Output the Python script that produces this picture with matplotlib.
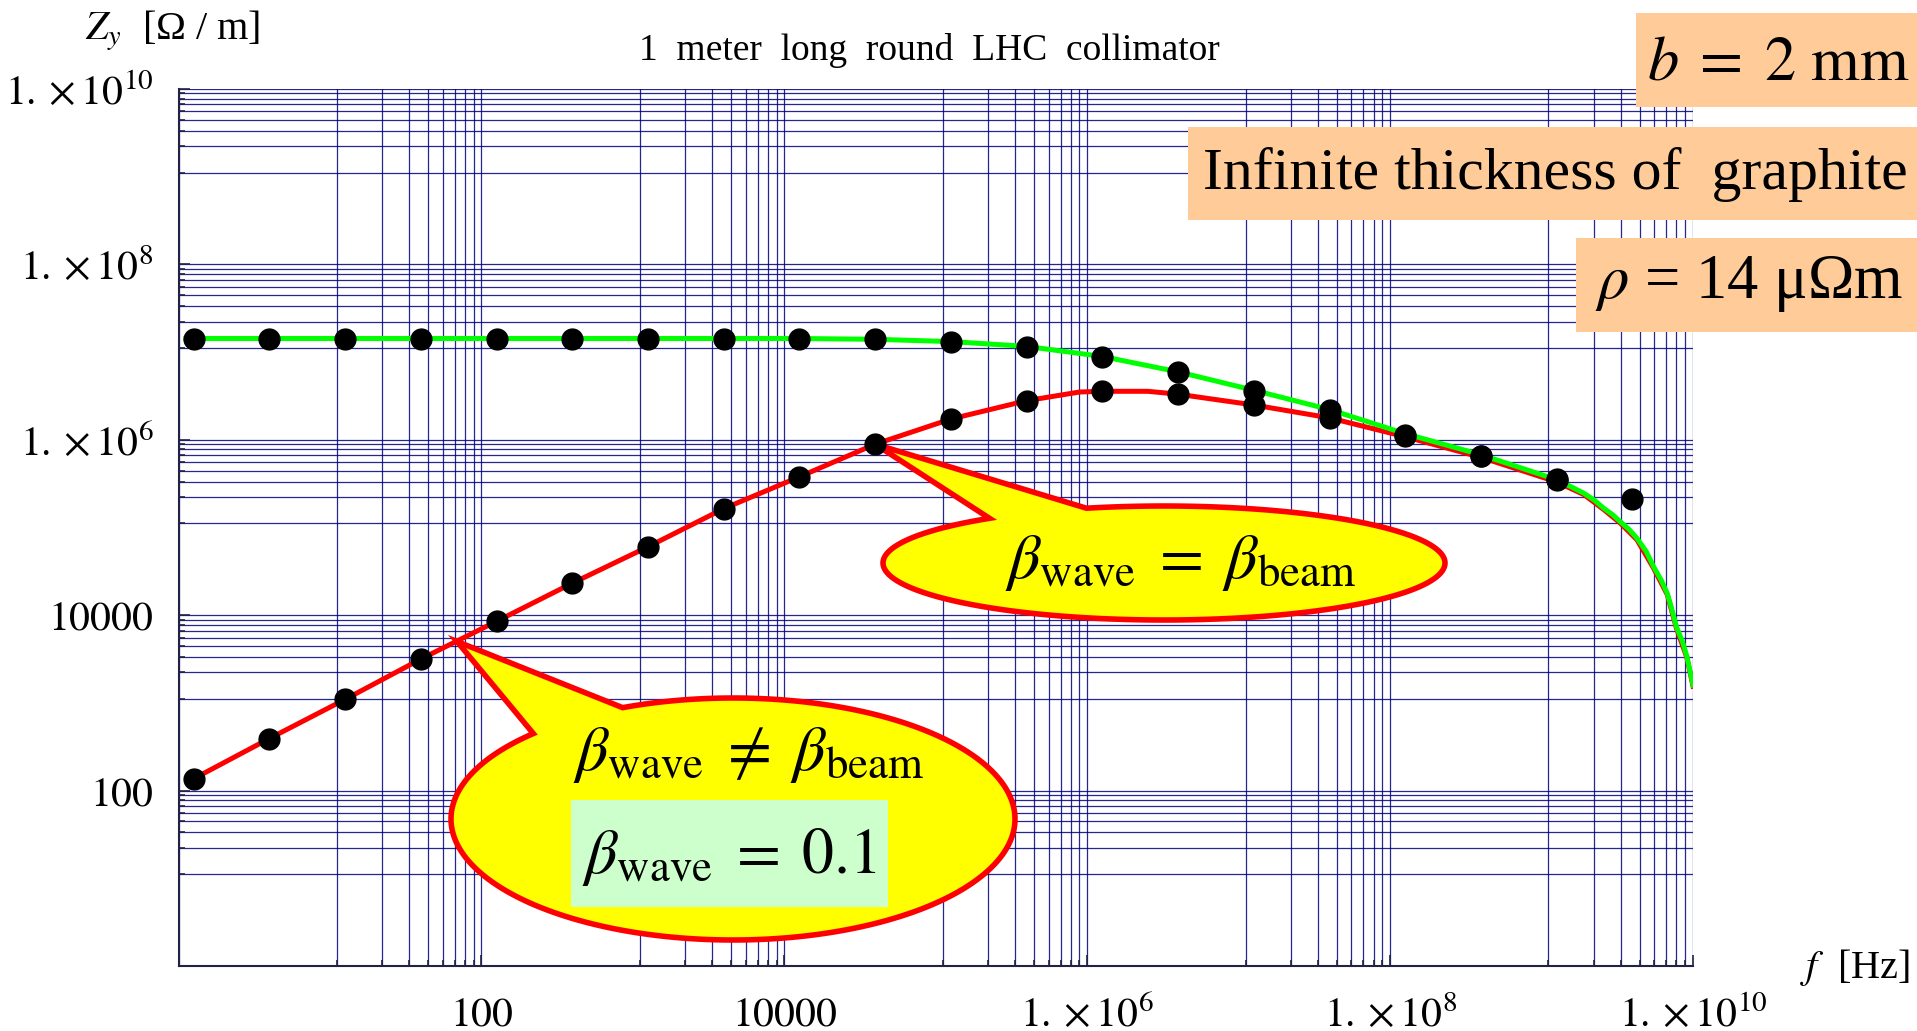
import numpy as np
import matplotlib
matplotlib.use('Agg')
import matplotlib.pyplot as plt
from matplotlib.patches import Polygon, Rectangle
from matplotlib.ticker import FixedLocator, FixedFormatter, NullFormatter

plt.rcParams['font.family'] = ['Liberation Serif', 'DejaVu Serif']
plt.rcParams['mathtext.fontset'] = 'stix'

W, H = 1917, 1031

# marked points, log10(f / Hz)
dot_logf = [0.1, 0.6, 1.1, 1.6, 2.1, 2.6, 3.1, 3.6, 4.1, 4.6,
            5.1, 5.6, 6.1, 6.6, 7.1, 7.6, 8.1, 8.6, 9.1, 9.6]
# log10(Z) of the dots on the flat (green) curve
dot_green = [7.155, 7.155, 7.155, 7.155, 7.155, 7.155, 7.155, 7.155, 7.155, 7.146,
             7.115, 7.062, 6.948, 6.773, 6.56, 6.34, 6.06, 5.82, 5.55, 5.32]
# log10(Z) of the dots on the rising (red) curve (up to 1e9.1 Hz)
dot_red = [2.135, 2.594, 3.04, 3.50, 3.93, 4.365, 4.78, 5.215, 5.578, 5.95,
           6.237, 6.446, 6.553, 6.522, 6.397, 6.25, 6.04, 5.81, 5.54]

# green curve
green_logf = [0.05, 4.1, 4.6, 5.1, 5.6, 6.1, 6.6, 7.1, 7.6, 8.1, 8.6, 9.1,
              9.2, 9.28, 9.35, 9.41, 9.47, 9.52, 9.58, 9.63, 9.69, 9.74, 9.79, 9.83,
              9.86, 9.89, 9.93, 9.96, 10.0]
green_logz = [7.155, 7.155, 7.146, 7.12, 7.065, 6.95, 6.775, 6.565, 6.345, 6.07, 5.83, 5.545,
              5.46, 5.39, 5.31, 5.22, 5.145, 5.066, 4.975, 4.877, 4.73, 4.553, 4.40, 4.25,
              4.07, 3.87, 3.70, 3.527, 3.204]

# red curve
red_logf = [0.1, 0.6, 1.1, 1.6, 2.1, 2.6, 3.1, 3.6, 4.1, 4.6, 5.1, 5.6, 5.95, 6.1, 6.4,
            6.6, 7.1, 7.6, 8.1, 8.6, 9.1, 9.28, 9.41, 9.52, 9.63, 9.74, 9.83, 9.89, 9.96, 10.0]
red_logz = [2.135, 2.594, 3.04, 3.50, 3.93, 4.365, 4.78, 5.215, 5.578, 5.95, 6.237, 6.446, 6.545,
            6.553, 6.553, 6.52, 6.397, 6.25, 6.035, 5.80, 5.52, 5.375, 5.205, 5.05, 4.86,
            4.535, 4.235, 3.855, 3.515, 3.19]

major_ticks = [1e0, 1e2, 1e4, 1e6, 1e8, 1e10]
tick_labels = ['', '$100$', '$10000$', r'$1.\times 10^{6}$',
               r'$1.\times 10^{8}$', r'$1.\times 10^{10}$']
# Mathematica style minor grid: major * j/9, j = 1..8
minor_ticks = [10.0 ** (2 * n) * j / 9 for n in range(1, 6) for j in range(1, 9)]

# callouts: tip in data (log10 f, log10 Z), ellipse in pixels
tip1 = (4.6, 5.95)
tip2 = (1.839, 3.70)


def fx(x):
    return x / W


def fy(y):
    return 1 - y / H


fig = plt.figure(figsize=(W / 100, H / 100), dpi=100)
ax = fig.add_axes([fx(178.5), fy(966), (1693 - 178.5) / W, (966 - 89) / H])
ax.set_xscale('log')
ax.set_yscale('log')
ax.set_xlim(1, 1e10)
ax.set_ylim(1, 1e10)

for axis in (ax.xaxis, ax.yaxis):
    axis.set_major_locator(FixedLocator(major_ticks))
    axis.set_major_formatter(FixedFormatter(tick_labels))
    axis.set_minor_locator(FixedLocator(minor_ticks))
    axis.set_minor_formatter(NullFormatter())

ax.set_axisbelow(True)
ax.grid(True, which='both', color='#000080', lw=0.9, alpha=0.85)
ax.tick_params(which='both', direction='in', color='#222244', width=1.2,
               labelsize=30, top=False, right=False)
ax.tick_params(which='major', length=8)
ax.tick_params(which='minor', length=4)
ax.tick_params(axis='x', pad=43)
ax.tick_params(axis='y', pad=18)
for t in ax.xaxis.get_major_ticks():
    t.label1.set_verticalalignment('baseline')
for s in ['top', 'right']:
    ax.spines[s].set_visible(False)
for s in ['left', 'bottom']:
    ax.spines[s].set_color('#222244')
    ax.spines[s].set_linewidth(1.5)

ax.plot(10 ** np.array(red_logf), 10 ** np.array(red_logz), color='#ff0000', lw=3.6, zorder=3)
ax.plot(10 ** np.array(green_logf), 10 ** np.array(green_logz), color='#00ff00', lw=3.6, zorder=3.1)
ax.plot(10 ** np.array(dot_logf), 10 ** np.array(dot_green), 'o', color='black', ms=15, zorder=5)
ax.plot(10 ** np.array(dot_logf[:len(dot_red)]), 10 ** np.array(dot_red), 'o', color='black',
        ms=15, zorder=5)


def bubble(cx, cy, a, b, base1, base2, tip):
    d = ax.transData.transform((10 ** tip[0], 10 ** tip[1]))
    tf = fig.transFigure.inverted().transform(d)
    tip_px = (tf[0] * W, (1 - tf[1]) * H)
    ta = np.arctan2((base1[1] - cy) / b, (base1[0] - cx) / a)
    tb = np.arctan2((base2[1] - cy) / b, (base2[0] - cx) / a)
    dd = (tb - ta) % (2 * np.pi)
    if dd < np.pi:
        ts = np.linspace(ta, ta - (2 * np.pi - dd), 300)
    else:
        ts = np.linspace(ta, ta + dd, 300)
    pts = [tip_px] + [(cx + a * np.cos(t), cy + b * np.sin(t)) for t in ts]
    pts = [(fx(x), fy(y)) for x, y in pts]
    ax.add_patch(Polygon(pts, closed=True, transform=fig.transFigure, facecolor='#ffff00',
                         edgecolor='#ff0000', lw=4, clip_on=False, zorder=4))


bubble(1164, 563, 281, 57, (1000, 521), (1089, 510), tip1)
bubble(733, 819, 282, 121, (539, 736), (624, 709), tip2)

ax.add_patch(Rectangle((fx(571), fy(907)), (888 - 571) / W, (907 - 800) / H,
                       transform=fig.transFigure, facecolor='#ccffcc', edgecolor='none',
                       clip_on=False, zorder=4.5))

ax.text(fx(1180), fy(578), r'$\beta_{\mathrm{wave}}\;=\;\beta_{\mathrm{beam}}$',
        transform=fig.transFigure, ha='center', va='baseline', fontsize=46, zorder=6)
ax.text(fx(748), fy(770), r'$\beta_{\mathrm{wave}}\;\neq\;\beta_{\mathrm{beam}}$',
        transform=fig.transFigure, ha='center', va='baseline', fontsize=46, zorder=6)
ax.text(fx(729), fy(873), r'$\beta_{\mathrm{wave}}\;=\;0.1$',
        transform=fig.transFigure, ha='center', va='baseline', fontsize=46, zorder=6)

# parameter boxes on the right
boxes = [((1636, 13, 1917, 107), r'$b\;=\;2\ \mathrm{mm}$', 1778, 80, 45),
         ((1188, 127, 1917, 220), 'Infinite thickness of  graphite', 1555, 189, 43),
         ((1576, 238, 1917, 332), r'$\rho$ = 14 μΩm', 1749, 298, 45)]
for (x0, y0, x1, y1), txt, tx, ty, fs in boxes:
    fig.patches.append(Rectangle((fx(x0), fy(y1)), (x1 - x0) / W, (y1 - y0) / H,
                                 transform=fig.transFigure, facecolor='#ffcc99',
                                 edgecolor='none', zorder=2))
    fig.text(fx(tx), fy(ty), txt, ha='center', va='baseline', fontsize=fs, zorder=3)

fig.text(fx(929), fy(60), '1  meter  long  round  LHC  collimator', ha='center',
         va='baseline', fontsize=27)
fig.text(fx(85), fy(40), r'$Z_y$  [Ω / m]', ha='left', va='baseline', fontsize=29)
fig.text(fx(1910), fy(978), r'$f$  [Hz]', ha='right', va='baseline', fontsize=29)

fig.savefig('out.png', dpi=100)
